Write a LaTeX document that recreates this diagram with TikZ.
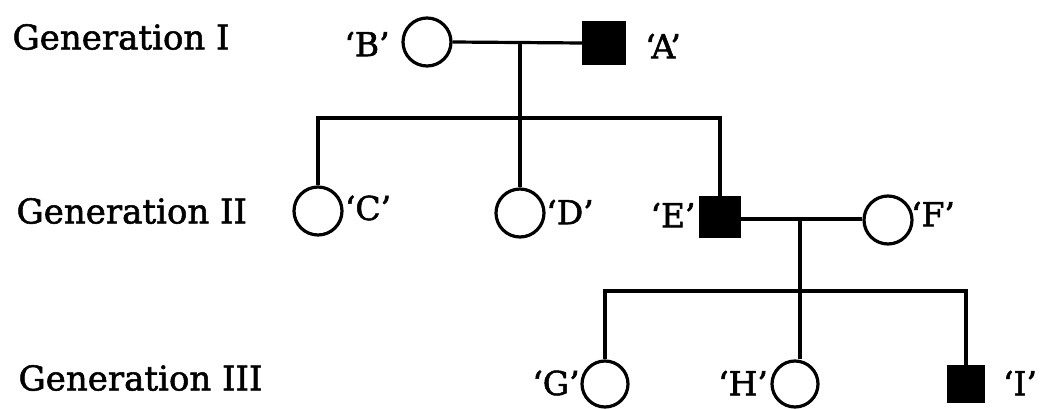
\documentclass[tikz,border=0pt]{standalone}
\usepackage{fontspec}
\setmainfont{DejaVu Serif}[FakeBold=1.6]
\begin{document}
\begin{tikzpicture}[x=1pt,y=-1pt,
  line width=3.2pt,
  female/.style={circle,draw,fill=white,minimum size=48pt,inner sep=0pt},
  male/.style={rectangle,draw,fill=black,minimum size=#1,inner sep=0pt},
  lbl/.style={font=\fontsize{33}{36}\selectfont,inner sep=0pt},
  gen/.style={font=\fontsize{34}{38}\selectfont,inner sep=0pt,anchor=west}]
\useasboundingbox (0,0) rectangle (1046,409);
% generation labels
\node[gen] (g1) at (11,37) {Generation I};
\node[gen] (g2) at (15,211) {Generation II};
\node[gen] (g3) at (17,378) {Generation III};
% individuals
\node[female] (B) at (427,42) {};
\node[male=40pt] (A) at (604,43) {};
\node[female] (C) at (318,211) {};
\node[female] (D) at (520,213) {};
\node[male=38pt] (E) at (720,217) {};
\node[female] (F) at (888,220) {};
\node[female,minimum size=46pt] (G) at (605,384) {};
\node[female,minimum size=46pt] (H) at (795,384) {};
\node[male=34pt] (I) at (966,384) {};
% names
\node[lbl] (lB) at (367,44) {‘B’};
\node[lbl] (lA) at (663,46) {‘A’};
\node[lbl] (lC) at (368,208) {‘C’};
\node[lbl] (lD) at (570,212) {‘D’};
\node[lbl] (lE) at (673,215) {‘E’};
\node[lbl] (lF) at (933,214) {‘F’};
\node[lbl] (lG) at (556,383) {‘G’};
\node[lbl] (lH) at (743,383) {‘H’};
\node[lbl] (lI) at (1020,383) {‘I’};
% junctions
\coordinate (m1) at (520,42);
\coordinate (s1) at (520,118);
\coordinate (m2) at (800,219);
\coordinate (s2) at (800,291);
% connectors
\draw (B.east) -- (A.west);
\draw (m1) -- (D.north);
\draw (C.north) |- (s1) -| (E.north);
\draw (E.east |- m2) -- (F.west |- m2);
\draw (m2) -- (H.north -| m2);
\draw (G.north) |- (s2) -| (I.north);
\end{tikzpicture}
\end{document}
